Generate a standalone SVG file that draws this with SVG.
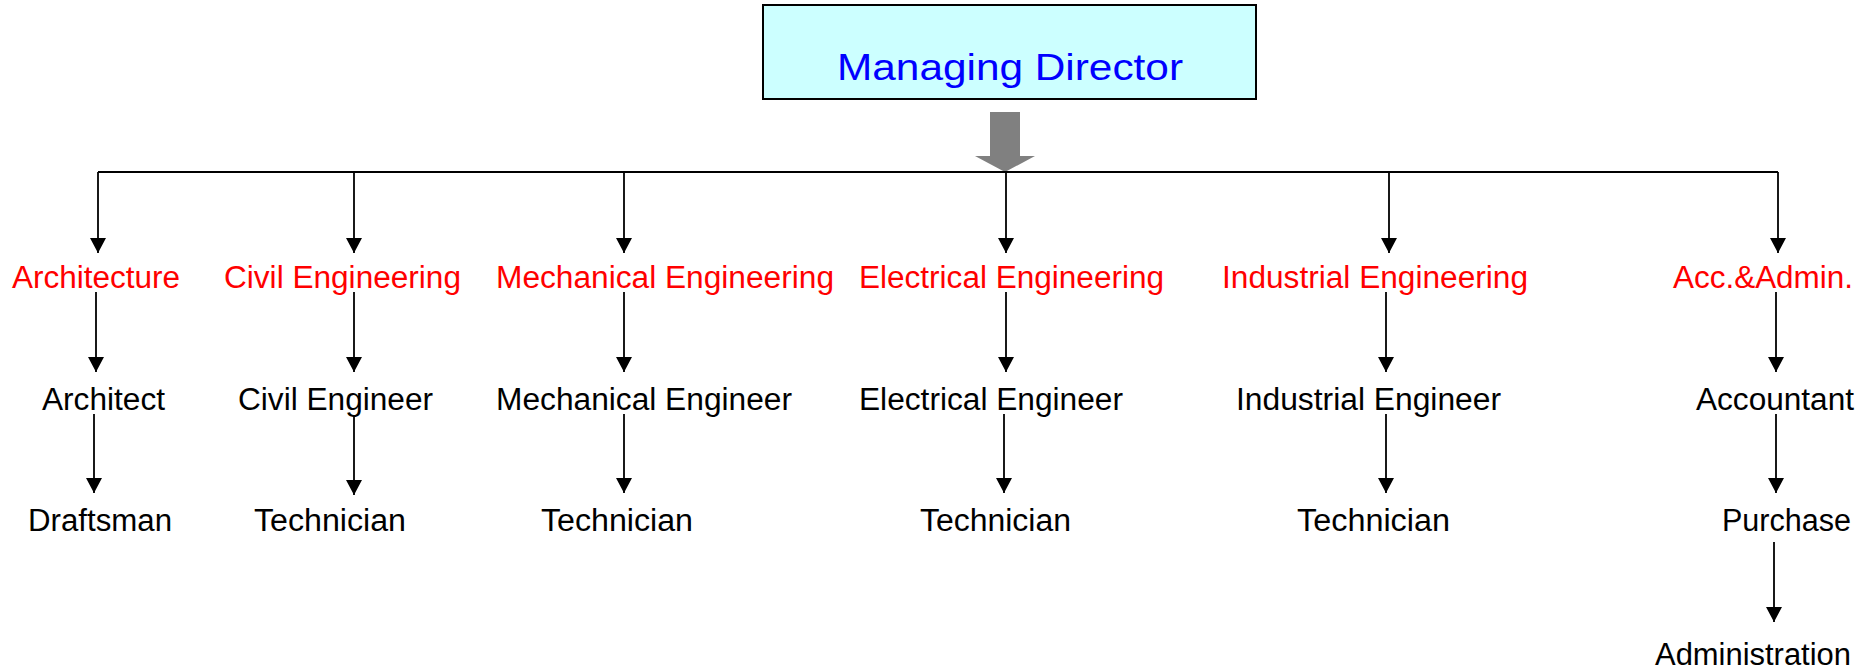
<svg xmlns="http://www.w3.org/2000/svg" width="1860" height="672" viewBox="0 0 1860 672">
  <style>
    text { font-family: "Liberation Sans", Arial, sans-serif; font-size: 31px; }
    .dept { fill: #FF0000; }
    .role { fill: #000000; }
    .title { fill: #0000FF; font-size: 36px; }
    .link { stroke: #000000; stroke-width: 1.8; fill: none; }
    .arrowed { marker-end: url(#head); }
  </style>
  <defs>
    <marker id="head" markerUnits="userSpaceOnUse" markerWidth="16" markerHeight="16" refX="15" refY="8" orient="auto">
      <path d="M0,0 L15,8 L0,16 Z" fill="#000000"/>
    </marker>
  </defs>
  <rect width="1860" height="672" fill="#FFFFFF"/>

  <!-- top of the chart -->
  <g id="managing-director">
    <rect x="763" y="5" width="493" height="94" fill="#CCFFFF" stroke="#000000" stroke-width="2"/>
    <text class="title" x="837" y="80" textLength="346" lengthAdjust="spacingAndGlyphs">Managing Director</text>
  </g>

  <!-- reporting lines -->
  <g id="connectors">
    <polygon points="990,112 1020,112 1020,156 1035,156 1005,172 975,156 990,156" fill="#808080"/>
    <line class="link" x1="98" y1="172" x2="1778" y2="172"/>
    <line class="link arrowed" x1="98" y1="172" x2="98" y2="253"/>
    <line class="link arrowed" x1="354" y1="172" x2="354" y2="253"/>
    <line class="link arrowed" x1="624" y1="172" x2="624" y2="253"/>
    <line class="link arrowed" x1="1006" y1="172" x2="1006" y2="253"/>
    <line class="link arrowed" x1="1389" y1="172" x2="1389" y2="253"/>
    <line class="link arrowed" x1="1778" y1="172" x2="1778" y2="253"/>

    <line class="link arrowed" x1="96" y1="292" x2="96" y2="372"/>
    <line class="link arrowed" x1="354" y1="292" x2="354" y2="372"/>
    <line class="link arrowed" x1="624" y1="292" x2="624" y2="372"/>
    <line class="link arrowed" x1="1006" y1="292" x2="1006" y2="372"/>
    <line class="link arrowed" x1="1386" y1="292" x2="1386" y2="372"/>
    <line class="link arrowed" x1="1776" y1="292" x2="1776" y2="372"/>

    <line class="link arrowed" x1="94" y1="414" x2="94" y2="493"/>
    <line class="link arrowed" x1="354" y1="416" x2="354" y2="495"/>
    <line class="link arrowed" x1="624" y1="414" x2="624" y2="493"/>
    <line class="link arrowed" x1="1004" y1="414" x2="1004" y2="493"/>
    <line class="link arrowed" x1="1386" y1="414" x2="1386" y2="493"/>
    <line class="link arrowed" x1="1776" y1="414" x2="1776" y2="493"/>

    <line class="link arrowed" x1="1774" y1="542" x2="1774" y2="622"/>
  </g>

  <!-- Architecture -->
  <g id="architecture">
    <text class="dept" x="12" y="288" textLength="168" lengthAdjust="spacingAndGlyphs">Architecture</text>
    <text class="role" x="42" y="410" textLength="123" lengthAdjust="spacingAndGlyphs">Architect</text>
    <text class="role" x="28" y="531" textLength="144" lengthAdjust="spacingAndGlyphs">Draftsman</text>
  </g>

  <!-- Civil Engineering -->
  <g id="civil-engineering">
    <text class="dept" x="224" y="288" textLength="237" lengthAdjust="spacingAndGlyphs">Civil Engineering</text>
    <text class="role" x="238" y="410" textLength="195" lengthAdjust="spacingAndGlyphs">Civil Engineer</text>
    <text class="role" x="254" y="531" textLength="152" lengthAdjust="spacingAndGlyphs">Technician</text>
  </g>

  <!-- Mechanical Engineering -->
  <g id="mechanical-engineering">
    <text class="dept" x="496" y="288" textLength="338" lengthAdjust="spacingAndGlyphs">Mechanical Engineering</text>
    <text class="role" x="496" y="410" textLength="296" lengthAdjust="spacingAndGlyphs">Mechanical Engineer</text>
    <text class="role" x="541" y="531" textLength="152" lengthAdjust="spacingAndGlyphs">Technician</text>
  </g>

  <!-- Electrical Engineering -->
  <g id="electrical-engineering">
    <text class="dept" x="859" y="288" textLength="305" lengthAdjust="spacingAndGlyphs">Electrical Engineering</text>
    <text class="role" x="859" y="410" textLength="264" lengthAdjust="spacingAndGlyphs">Electrical Engineer</text>
    <text class="role" x="920" y="531" textLength="151" lengthAdjust="spacingAndGlyphs">Technician</text>
  </g>

  <!-- Industrial Engineering -->
  <g id="industrial-engineering">
    <text class="dept" x="1222" y="288" textLength="306" lengthAdjust="spacingAndGlyphs">Industrial Engineering</text>
    <text class="role" x="1236" y="410" textLength="265" lengthAdjust="spacingAndGlyphs">Industrial Engineer</text>
    <text class="role" x="1297" y="531" textLength="153" lengthAdjust="spacingAndGlyphs">Technician</text>
  </g>

  <!-- Accounts and Administration -->
  <g id="acc-admin">
    <text class="dept" x="1673" y="288" textLength="180" lengthAdjust="spacingAndGlyphs">Acc.&amp;Admin.</text>
    <text class="role" x="1696" y="410" textLength="158" lengthAdjust="spacingAndGlyphs">Accountant</text>
    <text class="role" x="1722" y="531" textLength="129" lengthAdjust="spacingAndGlyphs">Purchase</text>
    <text class="role" x="1655" y="665" textLength="196" lengthAdjust="spacingAndGlyphs">Administration</text>
  </g>
</svg>
